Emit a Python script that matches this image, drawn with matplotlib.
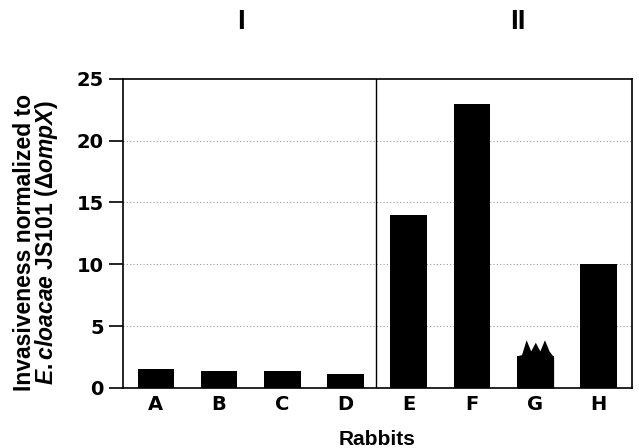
import numpy as np
import matplotlib
matplotlib.use("Agg")
from matplotlib import pyplot as plt

plt.rcParams["font.family"] = ["Liberation Sans", "DejaVu Sans"]
plt.rcParams["font.weight"] = "bold"
plt.rcParams["mathtext.fontset"] = "custom"
plt.rcParams["mathtext.rm"] = "Liberation Sans:bold"
plt.rcParams["mathtext.it"] = "Liberation Sans:italic:bold"
plt.rcParams["mathtext.bf"] = "Liberation Sans:bold"

rabbits = ["A", "B", "C", "D", "E", "F", "G", "H"]
invasiveness = [1.5, 1.4, 1.4, 1.1, 14.0, 23.0, 2.6, 10.0]
groups = ["I", "II"]
# ragged top of bar G, read left to right
g_top = [2.6, 2.7, 3.9, 3.0, 3.7, 3.0, 3.9, 3.0, 2.5]

fig = plt.figure(figsize=(6.39, 4.48), dpi=100)
ax = fig.add_axes([0.1925, 0.134, 0.7966, 0.69])

x = np.arange(len(rabbits))
width = 0.58
ax.bar(x, invasiveness, width=width, color="black", zorder=3)

# jagged top on G
gi = rabbits.index("G")
gx = np.linspace(gi - width / 2, gi + width / 2, len(g_top))
ax.fill_between(gx, 0, g_top, color="black", zorder=3, linewidth=0)

ax.set_xlim(-0.52, 7.53)
ax.set_ylim(0, 25)
ax.set_yticks([0, 5, 10, 15, 20, 25])
ax.set_xticks(x)
ax.set_xticklabels(rabbits, fontsize=14, fontweight="bold", family="DejaVu Sans")
ax.tick_params(axis="x", length=0, pad=5)
ax.tick_params(axis="y", direction="out", length=10, width=1.2, pad=4)
for lbl in ax.get_yticklabels():
    lbl.set_fontweight("bold")
    lbl.set_family("DejaVu Sans")
    lbl.set_fontsize(14)

for y in [5, 10, 15, 20]:
    ax.axhline(y, color="#999999", linestyle=(0, (1, 2)), linewidth=0.8, zorder=1)

ax.axvline(3.48, color="black", linewidth=1.0, zorder=2)
for s in ax.spines.values():
    s.set_linewidth(1.2)

ax.text(1.34, 1.142, groups[0], transform=ax.get_xaxis_transform(), ha="center",
        va="bottom", fontsize=20, fontweight="bold")
ax.text(5.72, 1.142, groups[1], transform=ax.get_xaxis_transform(), ha="center",
        va="bottom", fontsize=20, fontweight="bold")

ax.set_xlabel("Rabbits", fontsize=15, fontweight="bold")
ax.xaxis.set_label_coords(0.5, -0.135)
ax.xaxis.label.set_va("top")
ax.set_ylabel("Invasiveness normalized to\n$\\it{E.cloacae}$ JS101 ($\\Delta\\it{ompX}$)",
              fontsize=16.5, fontweight="bold", linespacing=0.85)
ax.yaxis.set_label_coords(-0.124, 0.469)

fig.savefig("out.png", dpi=100)
